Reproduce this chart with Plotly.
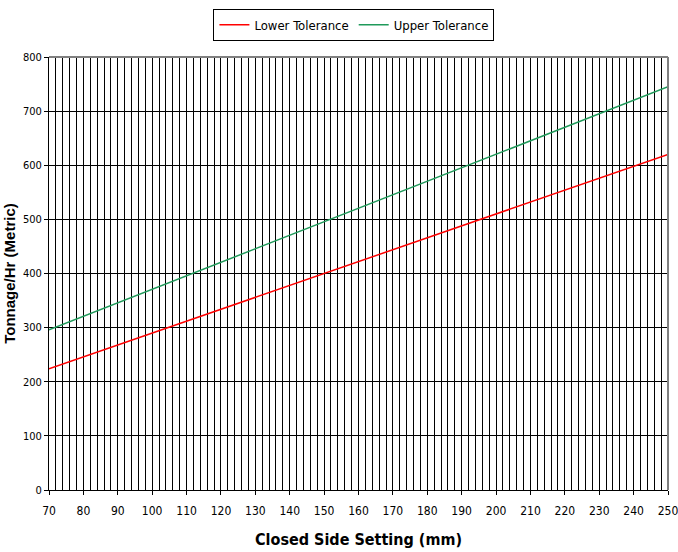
import plotly.graph_objects as go

x_mm = [70, 80, 90, 100, 110, 120, 130, 140, 150, 160, 170, 180, 190, 200, 210, 220, 230, 240, 250]
lower_tol = [224, 246, 268, 290, 312, 334, 356, 378, 400, 422, 444, 466, 488, 510, 532, 554, 576, 598, 620]
upper_tol = [296, 321, 346, 371, 396, 421, 446, 471, 496, 521, 546, 571, 596, 621, 646, 671, 696, 721, 745]
x_ticks = list(range(70, 251, 10))
y_ticks = list(range(0, 801, 100))

fig = go.Figure()
fig.add_trace(go.Scatter(x=x_mm, y=lower_tol, mode="lines", name="Lower Tolerance",
                         line=dict(color="#ff0000", width=1.5)))
fig.add_trace(go.Scatter(x=x_mm, y=upper_tol, mode="lines", name="Upper Tolerance",
                         line=dict(color="#1f9a5a", width=1.5)))

narrow = "DejaVu Sans Condensed, Liberation Sans Narrow, Arial Narrow, Liberation Sans"
fig.update_layout(
    width=678, height=552,
    margin=dict(l=49, r=10, t=57, b=62, autoexpand=False),
    paper_bgcolor="white", plot_bgcolor="white",
    font=dict(family=narrow, color="black", size=11),
    legend=dict(orientation="h", x=0.522, xanchor="center", xref="container",
                y=0.984, yanchor="top", yref="container",
                bordercolor="black", borderwidth=1, itemwidth=30,
                font=dict(size=13, family=narrow), bgcolor="white"),
    showlegend=True,
)
fig.update_xaxes(range=[70, 250], tickvals=x_ticks, ticks="outside", ticklen=4,
                 tickcolor="black", showline=True, linecolor="black", linewidth=1,
                 showgrid=True, gridcolor="black", gridwidth=1, automargin=False,
                 tickfont=dict(size=12), ticklabeloverflow="allow", ticklabelstandoff=6,
                 minor=dict(dtick=2, tick0=70, showgrid=True, gridcolor="black", gridwidth=1),
                 title=dict(text="<b>Closed Side Setting (mm)</b>", font=dict(size=16), standoff=16),
                 zeroline=False)
fig.update_yaxes(range=[0, 800], tickvals=y_ticks, ticks="outside", ticklen=4,
                 tickcolor="black", showline=True, linecolor="black", linewidth=1,
                 showgrid=True, gridcolor="black", gridwidth=1, automargin=False,
                 tickfont=dict(size=11), ticklabeloverflow="allow",
                 title=dict(text="<b>Tonnage/Hr (Metric)</b>",
                            font=dict(size=15, family="Liberation Sans, Arial"), standoff=3),
                 zeroline=False)
fig.add_shape(type="line", xref="paper", yref="paper", x0=0, x1=1, y0=1, y1=1,
              line=dict(color="#808080", width=2))
fig.add_shape(type="line", xref="paper", yref="paper", x0=1, x1=1, y0=0, y1=1,
              line=dict(color="#808080", width=2))
fig.write_html("out.html", config={"displayModeBar": False},
               post_script="document.body.style.margin='0';")
